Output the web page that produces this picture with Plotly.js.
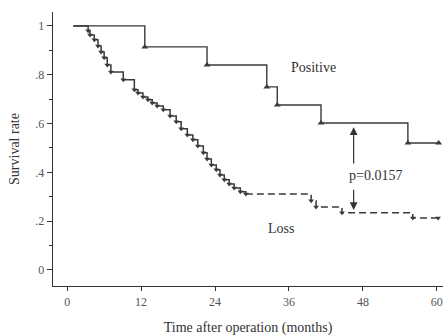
<!DOCTYPE html>
<html>
<head>
<meta charset="utf-8">
<script src="https://cdn.plot.ly/plotly-3.0.1.min.js"></script>
<style>html,body{margin:0;padding:0;background:#fff;}#chart{width:447px;height:336px;}</style>
</head>
<body>
<div id="chart"></div>
<script>
// Positive group: step times (months) and survival after each step
const posTime = [1, 12.6, 22.7, 32.4, 34.1, 41.2, 55.3, 60.3];
const posSurv = [1.0, 0.914, 0.840, 0.750, 0.676, 0.602, 0.520, 0.520];

// Loss group, solid part
const lossTime = [1, 3.4, 3.7, 4.4, 5.0, 5.5, 6.0, 6.5, 7.1, 9.1, 10.9, 11.5, 12.3, 13.1, 13.8, 14.6, 15.6, 16.7, 17.7, 18.5, 19.5, 20.4, 21.2, 22.1, 22.7, 23.4, 24.2, 24.8, 25.5, 26.3, 27.1, 28.1, 29.0];
const lossSurv = [1.0, 0.980, 0.963, 0.943, 0.918, 0.893, 0.869, 0.840, 0.811, 0.779, 0.738, 0.725, 0.709, 0.697, 0.684, 0.672, 0.656, 0.631, 0.607, 0.578, 0.553, 0.533, 0.508, 0.480, 0.455, 0.430, 0.410, 0.389, 0.369, 0.352, 0.336, 0.320, 0.311];
// Loss group, dashed tail
const lossTailTime = [29.0, 39.6, 40.4, 44.6, 56.1, 60.2];
const lossTailSurv = [0.311, 0.283, 0.258, 0.234, 0.213, 0.213];

const yTickVals = [0, 0.2, 0.4, 0.6, 0.8, 1];
const yTickText = ['0', '.2', '.4', '.6', '.8', '1'];
const xTickVals = [0, 12, 24, 36, 48, 60];

const lineCol = '#3a3a3a';
const serif = 'Liberation Serif, Times New Roman, serif';

const traces = [
  {x: posTime, y: posSurv, mode: 'lines', line: {shape: 'hv', color: lineCol, width: 1.4}, hoverinfo: 'skip'},
  {x: posTime.slice(1), y: posSurv.slice(1), mode: 'markers', marker: {symbol: 'triangle-up', size: 6, color: lineCol}, hoverinfo: 'skip'},
  {x: lossTime, y: lossSurv, mode: 'lines', line: {shape: 'hv', color: lineCol, width: 1.5}, hoverinfo: 'skip'},
  {x: lossTime.slice(1), y: lossSurv.slice(1), mode: 'markers', marker: {symbol: 'triangle-down', size: 5, color: lineCol}, hoverinfo: 'skip'},
  {x: lossTailTime, y: lossTailSurv, mode: 'lines', line: {shape: 'hv', color: lineCol, width: 1.5, dash: '7px,4px'}, hoverinfo: 'skip'},
  {x: lossTailTime.slice(1), y: lossTailSurv.slice(1), mode: 'markers', marker: {symbol: 'triangle-down', size: 5, color: lineCol}, hoverinfo: 'skip'}
];

const layout = {
  width: 447, height: 336,
  margin: {l: 53, r: 4, t: 12, b: 50},
  paper_bgcolor: '#ffffff', plot_bgcolor: '#ffffff',
  showlegend: false,
  font: {family: serif, color: '#444', size: 12},
  xaxis: {
    range: [-2.3, 61], showgrid: false, zeroline: false,
    showline: true, linecolor: '#333', linewidth: 1.3,
    ticks: 'outside', ticklen: 4, tickcolor: '#333',
    tickvals: xTickVals, ticktext: xTickVals.map(String),
    tickfont: {family: serif, size: 12, color: '#555'},
    title: {text: 'Time after operation (months)', font: {family: serif, size: 14, color: '#333'}, standoff: 14}
  },
  yaxis: {
    range: [-0.066, 1.057], showgrid: false, zeroline: false,
    showline: true, linecolor: '#333', linewidth: 1.3,
    ticks: 'outside', ticklen: 5, tickcolor: '#333',
    tickvals: yTickVals, ticktext: yTickText,
    minor: {dtick: 0.1, tick0: 0, ticks: 'outside', ticklen: 3, tickcolor: '#333'},
    tickfont: {family: serif, size: 12, color: '#555'},
    title: {text: 'Survival rate', font: {family: serif, size: 14, color: '#333'}, standoff: 12}
  },
  annotations: [
    {x: 40.0, y: 0.828, text: 'Positive', showarrow: false, font: {family: serif, size: 14, color: '#333'}},
    {x: 34.7, y: 0.168, text: 'Loss', showarrow: false, font: {family: serif, size: 14, color: '#333'}},
    {x: 50.1, y: 0.385, text: 'p=0.0157', showarrow: false, font: {family: serif, size: 14, color: '#333'}},
    {x: 46.5, y: 0.585, ax: 46.5, ay: 0.43, axref: 'x', ayref: 'y', xref: 'x', yref: 'y', text: '', showarrow: true, arrowhead: 2, arrowsize: 1.3, arrowwidth: 1.2, arrowcolor: '#333'},
    {x: 46.5, y: 0.245, ax: 46.5, ay: 0.335, axref: 'x', ayref: 'y', xref: 'x', yref: 'y', text: '', showarrow: true, arrowhead: 2, arrowsize: 1.3, arrowwidth: 1.2, arrowcolor: '#333'}
  ]
};

Plotly.newPlot('chart', traces, layout, {displayModeBar: false, staticPlot: true});
</script>
</body>
</html>
